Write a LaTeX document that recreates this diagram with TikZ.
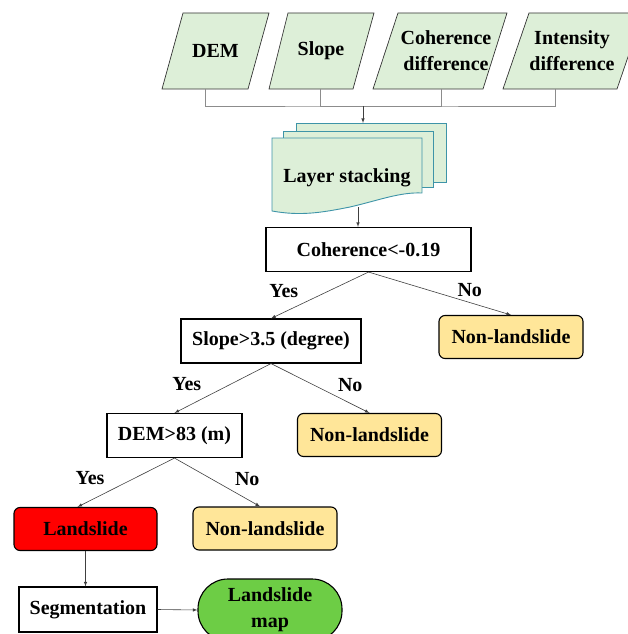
\documentclass[tikz,border=0pt]{standalone}
\usepackage{fontspec}
\setmainfont{Liberation Serif}
\usepackage{tikz}
\usetikzlibrary{arrows, positioning}
\definecolor{InGreen}{HTML}{DDEFD8}
\definecolor{StackEdge}{HTML}{3E94A8}
\definecolor{NoYellow}{HTML}{FFE699}
\definecolor{MapGreen}{HTML}{6DCD45}

\tikzset{
  txt/.style={font=\fontsize{20}{26}\selectfont\bfseries},
  intext/.style={txt, minimum height=76pt, inner sep=1pt, align=center},
  inpar/.style={draw=black!80, line width=0.7pt, fill=InGreen},
  testbox/.style={txt, draw, line width=1.1pt, fill=white, minimum height=44pt},
  nobox/.style={txt, draw, line width=1.1pt, rounded corners=6pt, fill=NoYellow,
    minimum width=144pt, minimum height=43pt},
  sheet/.style={draw=StackEdge, line width=0.9pt, fill=InGreen},
  link/.style={draw=black!75, line width=0.6pt},
  joinline/.style={draw=black!45, line width=0.7pt},
  yeslbl/.style={txt, midway, xshift=-36pt, yshift=4pt},
  nolbl/.style={txt, midway, xshift=30pt, yshift=3pt}
}

\begin{document}
\begin{tikzpicture}[x=1pt, y=-1pt, >=latex]
  \useasboundingbox (0,0) rectangle (627,634);

  % input layers
  \draw[inpar] (162,89) -- (183,13) -- (269,13) -- (248,89) -- cycle;
  \draw[inpar] (269,89) -- (288,13) -- (374,13) -- (353,89) -- cycle;
  \draw[inpar] (373,89) -- (398,13) -- (507,13) -- (483,89) -- cycle;
  \draw[inpar] (503,89) -- (529,13) -- (643,13) -- (617,89) -- cycle;
  \node[intext] (dem) at (215.5,51) {DEM};
  \node[intext] (slp) at (321,51) {Slope};
  \node[intext] (cohd) at (446,51) {Coherence\\difference};
  \node[intext] (intd) at (572,51) {Intensity\\difference};

  % join of the four inputs
  \coordinate (join) at (363,106);
  \draw[joinline] ([xshift=-10.5pt]dem.south) |- (join) -| ([xshift=-17pt]intd.south);
  \draw[joinline] ([xshift=-1pt]slp.south) |- (join);
  \draw[joinline] ([xshift=-5pt]cohd.south) |- (join);

  % layer stack
  \draw[sheet] (296,123) rectangle (446,182);
  \draw[sheet] (283,131) rectangle (433,187);
  \draw[sheet] (272,138) -- (422,138) -- (422,193)
    .. controls (400,192) and (380,200) .. (350,207)
    .. controls (320,213) and (300,216) .. (272,211) -- cycle;
  \node[txt] (stack) at (347,178) {Layer stacking};
  \coordinate (stacktop) at (363,123);
  \coordinate (stackbot) at (358,207);
  \draw[link, ->] (join) -- (stacktop);

  % decision tree
  \node[testbox, minimum width=205pt] (coh) at (368.5,249.5) {Coherence<-0.19};
  \node[testbox, minimum width=180pt] (slpt) at (271,341) {Slope>3.5 (degree)};
  \node[nobox] (no1) at (511,337) {Non-landslide};
  \node[testbox, minimum width=135pt] (demt) at (174.5,435.5) {DEM>83 (m)};
  \node[nobox] (no2) at (369.5,435) {Non-landslide};
  \node[nobox, fill=red, minimum width=143pt] (ls) at (85.5,529) {Landslide};
  \node[nobox] (no3) at (265,528.5) {Non-landslide};

  \draw[link, ->] (stackbot) -- (stackbot |- coh.north);
  \draw[link, ->] (coh.south) -- (slpt.north) node[yeslbl] {Yes};
  \draw[link, ->] (coh.south) -- (no1.north) node[nolbl] {No};
  \draw[link, ->] (slpt.south) -- (demt.north) node[yeslbl] {Yes};
  \draw[link, ->] (slpt.south) -- (no2.north) node[nolbl] {No};
  \draw[link, ->] (demt.south) -- ([xshift=-8pt]ls.north) node[yeslbl] {Yes};
  \draw[link, ->] (demt.south) -- ([xshift=-5pt]no3.north) node[nolbl] {No};

  % output
  \node[testbox, minimum width=138pt, minimum height=45pt] (seg) at (88,609.5) {Segmentation};
  \node[txt, draw, line width=1.1pt, fill=MapGreen, rounded corners=30pt,
    minimum width=144pt, minimum height=62pt, align=center] (map) at (270,610) {Landslide\\map};
  \draw[link, ->] (ls.south) -- (ls.south |- seg.north);
  \draw[link, ->] (seg.east) -- (map.west);
\end{tikzpicture}
\end{document}
